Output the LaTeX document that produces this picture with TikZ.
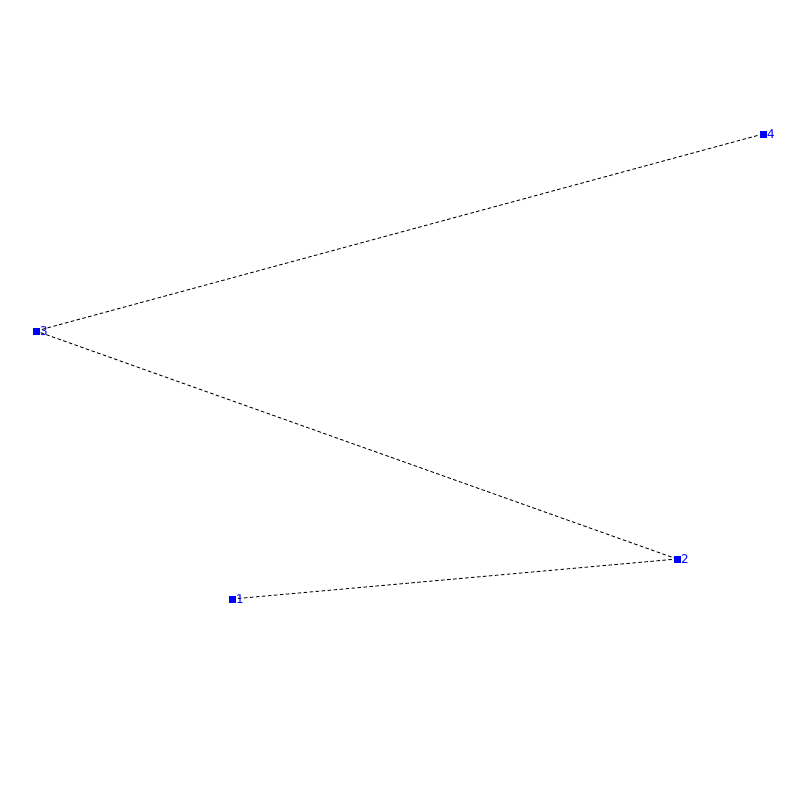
\documentclass[tikz,border=0pt]{standalone}
\usepackage{fontspec}
\setmainfont{DejaVu Sans}
\begin{document}
\begin{tikzpicture}[x=1pt,y=-1pt,
  vtx/.style={fill=blue,minimum size=7pt,inner sep=0pt,outer sep=0pt},
  lbl/.style={text=blue,font=\fontsize{12}{12}\selectfont,inner sep=0pt,anchor=west},
  edge/.style={draw=black,line width=0.9pt,dash pattern=on 3.5pt off 2.5pt}]
\useasboundingbox (0,0) rectangle (800,800);
\node[vtx] (n1) at (232,599) {};
\node[vtx] (n2) at (677,559) {};
\node[vtx] (n3) at (36,331) {};
\node[vtx] (n4) at (763,134) {};
\draw[edge] (n1.center) -- (n2.center);
\draw[edge] (n2.center) -- (n3.center);
\draw[edge] (n3.center) -- (n4.center);
\node[vtx] at (n1) {};
\node[vtx] at (n2) {};
\node[vtx] at (n3) {};
\node[vtx] at (n4) {};
\node[lbl] (t1) at (236,599.5) {1};
\node[lbl] (t2) at (681,559.5) {2};
\node[lbl] (t3) at (40,331.5) {3};
\node[lbl] (t4) at (767,134.5) {4};
\end{tikzpicture}
\end{document}
